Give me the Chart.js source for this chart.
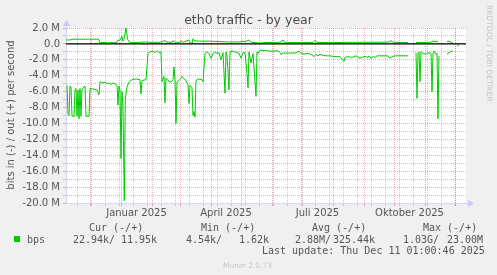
<!DOCTYPE html>
<html>
<head>
<meta charset="utf-8">
<script src="https://cdn.jsdelivr.net/npm/chart.js@4.4.1/dist/chart.umd.min.js"></script>
<style>
  html, body { margin: 0; padding: 0; background: #f0f0f0; }
  #wrap { position: relative; width: 497px; height: 275px; overflow: hidden; }
  canvas { position: absolute; left: 0; top: 0; }
  .t { position: absolute; white-space: pre; line-height: 12px; color: #555;
       font-family: "DejaVu Sans Mono", monospace; font-size: 10px; }
  .sans { font-family: "DejaVu Sans", sans-serif; }
</style>
</head>
<body>
<div id="wrap">
  <canvas id="chart" width="497" height="275"></canvas>
  <div class="t sans" style="left:0;width:497px;top:12px;text-align:center;font-size:12.5px;line-height:15px;color:#4d4d4d">eth0 traffic - by year</div>
  <div class="t sans" style="left:11px;top:115px;transform:translate(-50%,-50%) rotate(-90deg)">bits in (-) / out (+) per second</div>
  <div class="t sans" style="left:483px;top:5px;writing-mode:vertical-rl;font-size:7.5px;color:#c4c4c4">RRDTOOL / TOBI OETIKER</div>

  <div style="position:absolute;left:14px;top:236px;width:6px;height:6px;background:#00cc00"></div>
  <div class="t" style="left:27px;top:234px">bps</div>
  <div class="t" style="left:89px;top:222px">Cur (-/+)</div>
  <div class="t" style="left:201px;top:222px">Min (-/+)</div>
  <div class="t" style="left:312px;top:222px">Avg (-/+)</div>
  <div class="t" style="left:423px;top:222px">Max (-/+)</div>
  <div class="t" style="left:73px;top:234px">22.94k/</div>
  <div class="t" style="left:121px;top:234px">11.95k</div>
  <div class="t" style="left:186px;top:234px">4.54k/</div>
  <div class="t" style="left:239px;top:234px">1.62k</div>
  <div class="t" style="left:295px;top:234px">2.88M/</div>
  <div class="t" style="left:333px;top:234px">325.44k</div>
  <div class="t" style="left:403px;top:234px">1.03G/</div>
  <div class="t" style="left:447px;top:234px">23.00M</div>
  <div class="t" style="left:262px;top:245px">Last update: Thu Dec 11 01:00:46 2025</div>
  <div class="t sans" style="left:223px;top:260px;font-size:7.5px;color:#c8c8c8">Munin 2.0.73</div>
</div>
<script>
// days counted from 2024-11-07 (left edge of the graph), values in Mbit/s
const START = Date.UTC(2024, 10, 7);
const X_MIN = 0;
const X_MAX = 400;

const inDays = [1, 2, 3, 4, 5, 6, 8, 9, 10, 11, 12, 13, 14, 15, 16, 18, 19, 20, 23, 24,
  28, 31, 33, 34, 37, 39, 41, 43, 45, 47, 49, 51, 52, 53, 54, 55, 56, 57, 58.3, 59.3,
  61, 63, 66, 70, 74, 75, 76, 80, 82, 84, 87, 89, 91, 93, 95, 96, 98, 99, 100, 102,
  105, 107, 108, 109, 110, 111, 113, 115, 116, 118, 120, 122, 123, 124, 126, 127, 128, 129, 130, 132,
  136, 137, 139, 141, 143, 145, 147, 149, 151, 153, 155, 157, 159, 160, 161, 163, 164, 166, 169, 171,
  173, 175, 177, 179, 181, 182, 183, 185, 187, 190, 191, 192, 194, 199, 204, 209, 212, 214, 215, 217,
  224, 229, 233, 235, 237, 241, 245, 248, 250, 252, 254, 256, 260, 264, 269, 274, 278, 279, 282, 286,
  290, 294, 298, 300, 302, 303, 305, 307, 309, 311, 314, 318, 322, 324, 326, 329, 334, 339, 342, 346,
  350, 351, 352, 353, 354, 355, 357, 360, 362, 365, 366, 367, 368, 370, 371, 372, 373, 376,
  381, 383, 385, 387, 389, 391, 393];
const inMbps = [-5.2, -8.8, -9.0, -5.3, -5.4, -9.0, -9.2, -5.7, -5.6, -9.1, -5.8, -9.4, -5.6, -9.1, -5.8, -5.4, -5.3, -9.1, -9.1, -5.6,
  -5.7, -5.8, -6.4, -4.75, -4.9, -4.8, -5.0, -4.9, -5.1, -4.9, -5.0, -5.2, -7.7, -5.3, -5.8, -14.4, -6.0, -8.0, -19.7, -6.9,
  -5.4, -4.8, -4.5, -4.4, -4.5, -6.3, -4.6, -4.5, -1.2, -1.0, -0.9, -1.1, -0.85, -1.1, -1.0, -4.75, -4.1, -7.4, -4.3, -4.6,
  -4.8, -4.5, -2.9, -4.5, -10.0, -4.8, -4.6, -4.3, -4.1, -4.4, -4.6, -5.2, -7.5, -5.2, -5.5, -9.0, -8.5, -9.2, -4.6, -4.4,
  -4.5, -4.75, -1.2, -1.0, -1.2, -1.8, -1.2, -1.0, -1.2, -1.1, -2.0, -1.1, -6.2, -1.0, -1.4, -5.8, -1.0, -0.9, -1.0, -1.1,
  -1.2, -1.8, -1.1, -1.1, -3.7, -5.5, -1.0, -2.4, -1.2, -6.6, -1.0, -1.2, -0.8, -0.85, -0.9, -0.9, -0.85, -1.1, -1.35, -1.15,
  -1.15, -1.15, -0.93, -1.15, -1.3, -1.2, -1.3, -1.6, -1.3, -1.5, -1.3, -1.4, -1.5, -1.5, -1.6, -1.6, -2.2, -1.7, -1.6, -1.7,
  -1.5, -1.8, -1.6, -1.6, -1.7, -1.5, -1.8, -1.6, -1.7, -1.5, -1.5, -1.5, -1.5, -1.8, -1.6, -1.5, -1.5, -1.5, -1.5, null,
  -1.1, -6.85, -1.2, -1.0, -4.75, -0.97, -1.2, -1.3, -1.1, -1.2, -6.0, -1.2, -0.9, -1.3, -1.2, -9.4, -1.5, null,
  -1.3, -1.1, -0.97, -0.85, null, -0.1, -0.3];

const outDays = [0, 5, 6, 32, 33, 34, 36, 39, 42, 45, 48, 51, 52, 54, 56, 57, 58, 60, 61.5, 63,
  65, 74, 80, 84, 94, 99, 101, 106, 107, 109, 114, 115, 117, 123, 124, 125, 126, 127, 128, 134,
  144, 154, 159, 164, 174, 176, 179, 183, 185, 189, 194, 199, 214, 217, 218, 224, 234, 247, 249, 251,
  254, 264, 274, 284, 294, 300, 314, 323, 325, 327, 334, 342, 346, 350, 359, 364, 368, 370, 371, 372,
  376, 381, 383, 385, 387];
const outMbps = [0.5, 0.5, 0.59, 0.59, 0.5, 0.17, 0.15, 0.2, 0.12, 0.18, 0.15, 0.2, 0.5, 0.45, 0.92, 0.35, 0.6, 2.0, 0.6, 0.3,
  0.17, 0.2, 0.25, 0.2, 0.2, 0.42, 0.22, 0.2, 0.42, 0.2, 0.2, 0.42, 0.2, 0.5, 0.2, 0.1, 0.0, 0.65, 0.4, 0.35,
  0.34, 0.3, 0.25, 0.25, 0.25, 0.34, 0.28, 0.5, 0.22, 0.17, 0.1, 0.17, 0.2, 0.5, 0.22, 0.17, 0.17, 0.17, 0.45, 0.22,
  0.17, 0.2, 0.17, 0.2, 0.2, 0.21, 0.21, 0.25, 0.42, 0.21, 0.17, 0.17, null, 0.17, 0.17, 0.2, 0.34, 0.25, 0.34, 0.3,
  null, 0.3, 0.34, 0.17, 0.1];

const yTicks = [];
for (let v = -20; v <= 2; v++) yTicks.push(v);

const monthLabels = ["Januar 2025", "April 2025", "Juli 2025", "Oktober 2025"];
const labelMonths = [[2025, 0], [2025, 3], [2025, 6], [2025, 9]];

const dayOf = (y, m, d) => (Date.UTC(y, m, d) - START) / 864e5;

// red lines at month starts, grey lines every second monday
const monthStarts = [];
for (let m = 11; m <= 23; m++) monthStarts.push(dayOf(2024, m, 1));
const mondays = [];
for (let d = dayOf(2024, 11, 30); d > X_MIN; d -= 14) mondays.push(d);
for (let d = dayOf(2024, 11, 30) + 14; d < X_MAX; d += 14) mondays.push(d);
const labelDays = labelMonths.map(([y, m]) => (dayOf(y, m, 1) + dayOf(y, m + 1, 1)) / 2);

const GREEN = "#00cc00";
const MAJOR = "rgba(225,90,90,0.5)";
const MINOR = "rgba(185,185,185,0.75)";
const AXIS = "#d4d4f4";

function xTickColor(v) {
  if (labelDays.includes(v)) return "rgba(0,0,0,0)";
  if (monthStarts.includes(v)) return MAJOR;
  return MINOR;
}

const plotBackground = {
  id: "plotBackground",
  beforeDraw(chart) {
    const { ctx, chartArea: a } = chart;
    ctx.save();
    ctx.fillStyle = "#ffffff";
    ctx.fillRect(a.left, a.top, a.right - a.left, a.bottom - a.top);
    ctx.restore();
  },
  afterDraw(chart) {
    const { ctx, chartArea: a } = chart;
    ctx.save();
    ctx.strokeStyle = AXIS;
    ctx.fillStyle = "#c8c8ff";
    ctx.lineWidth = 1;
    ctx.beginPath();
    ctx.moveTo(a.left + 0.5, a.top);
    ctx.lineTo(a.left + 0.5, a.top - 4);
    ctx.moveTo(a.right, a.bottom + 0.5);
    ctx.lineTo(a.right + 3, a.bottom + 0.5);
    ctx.stroke();
    // arrows at the axis ends
    ctx.beginPath();
    ctx.moveTo(a.left + 0.5, a.top - 8);
    ctx.lineTo(a.left - 3, a.top - 2);
    ctx.lineTo(a.left + 4, a.top - 2);
    ctx.closePath();
    ctx.fill();
    ctx.beginPath();
    ctx.moveTo(a.right + 8, a.bottom + 0.5);
    ctx.lineTo(a.right + 2, a.bottom - 3);
    ctx.lineTo(a.right + 2, a.bottom + 4);
    ctx.closePath();
    ctx.fill();
    ctx.restore();
  }
};

const toPoints = (days, vals) => days.map((d, i) => ({ x: d, y: vals[i] }));

new Chart(document.getElementById("chart"), {
  type: "line",
  data: {
    datasets: [
      {
        label: "zero",
        data: [{ x: X_MIN, y: 0 }, { x: X_MAX, y: 0 }],
        borderColor: "#000000",
        borderWidth: 1.2
      },
      {
        label: "in",
        data: toPoints(inDays, inMbps),
        borderColor: GREEN,
        borderWidth: 1
      },
      {
        label: "out",
        data: toPoints(outDays, outMbps),
        borderColor: GREEN,
        borderWidth: 1
      }
    ]
  },
  options: {
    responsive: false,
    animation: false,
    layout: { padding: { top: 28, right: 31, left: 0, bottom: 0 } },
    elements: { point: { radius: 0 }, line: { tension: 0 } },
    spanGaps: false,
    plugins: { legend: { display: false }, tooltip: { enabled: false }, title: { display: false } },
    scales: {
      x: {
        type: "linear",
        min: X_MIN,
        max: X_MAX,
        afterBuildTicks: (s) => {
          const vals = [...mondays, ...monthStarts, ...labelDays].sort((a, b) => a - b);
          s.ticks = vals.map((v) => ({ value: v }));
        },
        afterFit: (s) => { s.height = 72; },
        grid: {
          color: (c) => xTickColor(c.tick.value),
          tickColor: (c) => xTickColor(c.tick.value),
          tickLength: 3,
          lineWidth: 1
        },
        border: { color: AXIS, dash: [1, 1] },
        ticks: {
          autoSkip: false,
          maxRotation: 0,
          padding: 1,
          color: "#555",
          font: { family: "DejaVu Sans", size: 10 },
          callback: (v) => {
            const i = labelDays.indexOf(v);
            return i >= 0 ? monthLabels[i] : "";
          }
        }
      },
      y: {
        min: -20,
        max: 2,
        afterBuildTicks: (s) => { s.ticks = yTicks.map((v) => ({ value: v })); },
        afterFit: (s) => { s.width = 66; },
        grid: {
          color: (c) => (c.tick.value % 2 === 0 ? MAJOR : MINOR),
          tickColor: (c) => (c.tick.value % 2 === 0 ? MAJOR : MINOR),
          tickLength: 3,
          lineWidth: 1
        },
        border: { color: AXIS, dash: [1, 1] },
        ticks: {
          autoSkip: false,
          padding: 3,
          color: "#555",
          font: { family: "DejaVu Sans", size: 10 },
          callback: (v) => (v % 2 !== 0 ? "" : v === 0 ? "0.0" : v.toFixed(1) + " M")
        }
      }
    }
  },
  plugins: [plotBackground]
});
</script>
</body>
</html>
